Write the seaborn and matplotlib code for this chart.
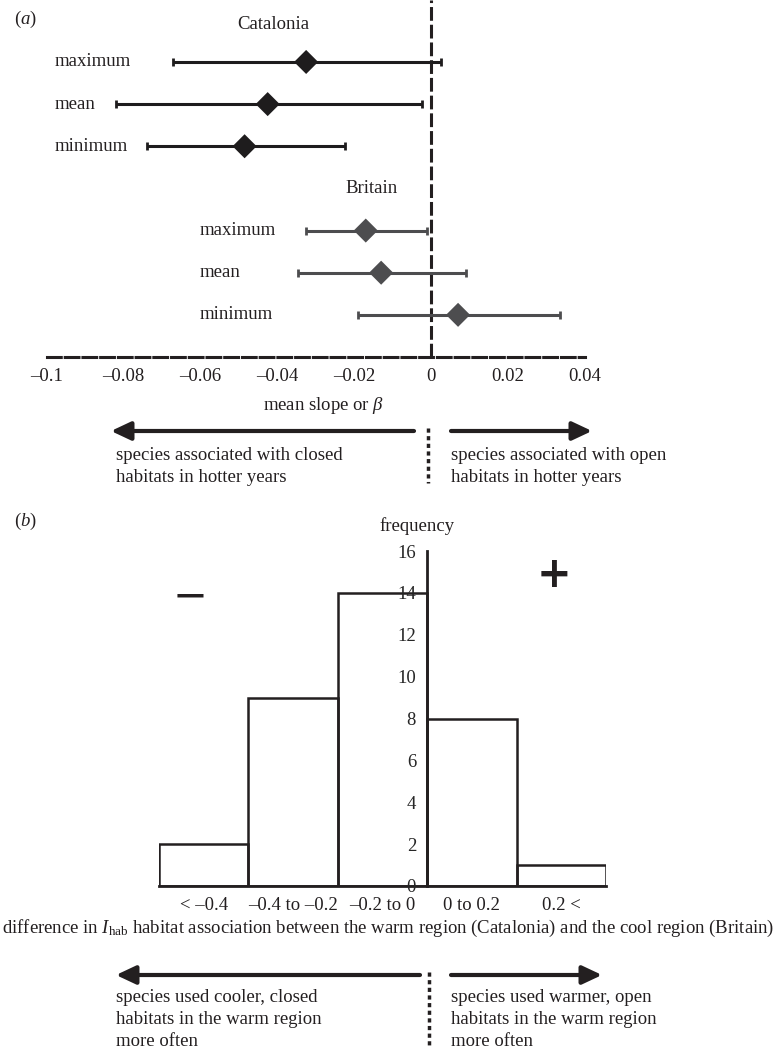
import numpy as np
import pandas as pd
import matplotlib.pyplot as plt
import seaborn as sns
from matplotlib.patches import FancyArrowPatch

# (a) slopes per region: estimate with lower / upper limits
row_labels = ["maximum", "mean", "minimum"]
cat_beta = [-0.0325, -0.0425, -0.0485]
cat_lo = [-0.067, -0.082, -0.074]
cat_hi = [0.0025, -0.0025, -0.0225]
brit_beta = [-0.017, -0.013, 0.007]
brit_lo = [-0.0325, -0.0345, -0.019]
brit_hi = [-0.001, 0.009, 0.0335]
xticks_a = [-0.1, -0.08, -0.06, -0.04, -0.02, 0, 0.02, 0.04]
xticklabels_a = ["–0.1", "–0.08", "–0.06", "–0.04", "–0.02", "0", "0.02", "0.04"]

# (b) histogram of differences in I_hab
bin_labels = ["< –0.4", "–0.4 to –0.2", "–0.2 to 0", "0 to 0.2", "0.2 <"]
frequency = [2, 9, 14, 8, 1]

sns.set_style("white")
plt.rcParams["font.family"] = ["Liberation Serif", "DejaVu Serif"]
plt.rcParams["mathtext.fontset"] = "custom"
plt.rcParams["mathtext.rm"] = "Liberation Serif"
plt.rcParams["mathtext.it"] = "Liberation Serif:italic"

INK = "#231f20"
CAT_COL = "#1e1c1d"
BRIT_COL = "#4d4d4f"
FS = 13.5

W, H = 777, 1049
fig = plt.figure(figsize=(W / 100, H / 100), dpi=100)


def px_axes(left, top, right, bottom):
    return fig.add_axes([left / W, 1 - bottom / H, (right - left) / W, (bottom - top) / H])


# ---------------- panel (a) ----------------
ax_a = px_axes(46.5, 0, 585, 357)
df_a = pd.DataFrame({
    "region": ["Catalonia"] * 3 + ["Britain"] * 3,
    "stat": row_labels * 2,
    "beta": cat_beta + brit_beta,
    "lo": cat_lo + brit_lo,
    "hi": cat_hi + brit_hi,
    "row": [1, 2, 3, 5, 6, 7],
})
palette = {"Catalonia": CAT_COL, "Britain": BRIT_COL}

for region, g in df_a.groupby("region", sort=False):
    ax_a.errorbar(g["beta"], g["row"],
                  xerr=[g["beta"] - g["lo"], g["hi"] - g["beta"]],
                  fmt="none", ecolor=palette[region], elinewidth=2.2,
                  capsize=3, capthick=2, zorder=2)
sns.scatterplot(data=df_a, x="beta", y="row", hue="region", palette=palette,
                marker="D", s=150, linewidth=0, legend=False, zorder=3, ax=ax_a)

ax_a.axvline(0, color=INK, lw=2.2, ls=(0, (4.5, 1.3)), zorder=1)
ax_a.set_xlim(-0.1, 0.04)
ax_a.set_ylim(8, -0.47)
ax_a.set_xticks(xticks_a)
ax_a.set_xticklabels(xticklabels_a, color=INK)
ax_a.tick_params(axis="x", labelsize=FS)
ax_a.set_yticks([])
ax_a.set_xlabel("")
ax_a.set_ylabel("")
for side in ["left", "top", "right"]:
    ax_a.spines[side].set_visible(False)
ax_a.spines["bottom"].set_linestyle((0, (4.5, 1.3)))
ax_a.spines["bottom"].set_linewidth(2.2)
ax_a.spines["bottom"].set_color(INK)
ax_a.tick_params(axis="x", direction="out", length=4, width=2, color=INK, pad=4)
ax_a.patch.set_alpha(0)

for i, lab in enumerate(row_labels):
    ax_a.text(-0.098, 1 + i, lab, fontsize=FS, color=INK, ha="left", va="center")
    ax_a.text(-0.0603, 5 + i, lab, fontsize=FS, color=INK, ha="left", va="center")
ax_a.text(-0.041, 0.1, "Catalonia", fontsize=FS, color=INK, ha="center", va="center")
ax_a.text(-0.0155, 4.0, "Britain", fontsize=FS, color=INK, ha="center", va="center")

# ---------------- panel (b) ----------------
ax_b = px_axes(159, 551, 606, 886)
df_b = pd.DataFrame({"bin": bin_labels, "frequency": frequency})
sns.barplot(data=df_b, x="bin", y="frequency", order=bin_labels, width=1,
            color="white", edgecolor=INK, linewidth=1.8, ax=ax_b)
for p in ax_b.patches:
    p.set_facecolor("none")
ax_b.set_xlim(-0.5, 4.5)
ax_b.set_ylim(0, 16)
ax_b.set_yticks(np.arange(0, 17, 2))
ax_b.set_yticklabels([str(v) for v in range(0, 17, 2)], color=INK)
ax_b.set_xticks(np.arange(-0.5, 4.6, 1))
ax_b.set_xticklabels([])
ax_b.set_xticks(np.arange(len(bin_labels)), minor=True)
ax_b.set_xticklabels(bin_labels, minor=True, color=INK)
ax_b.tick_params(axis="both", which="both", labelsize=FS)
ax_b.tick_params(axis="x", which="major", direction="out", length=5, width=2, color=INK)
ax_b.tick_params(axis="x", which="minor", length=0, pad=8)
ax_b.tick_params(axis="y", direction="out", length=4, width=2, color=INK, pad=4)
ax_b.set_axisbelow(False)
ax_b.set_xlabel("")
ax_b.set_ylabel("")
ax_b.spines["top"].set_visible(False)
ax_b.spines["right"].set_visible(False)
ax_b.spines["left"].set_position(("data", 2.5))
for side in ["left", "bottom"]:
    ax_b.spines[side].set_linewidth(2)
    ax_b.spines[side].set_color(INK)
ax_b.patch.set_alpha(0)

# ---------------- annotations in pixel space ----------------
ov = fig.add_axes([0, 0, 1, 1])
ov.set_xlim(0, W)
ov.set_ylim(H, 0)
ov.axis("off")
ov.patch.set_alpha(0)


def arrow(x0, x1, y):
    ov.add_patch(FancyArrowPatch((x0, y), (x1, y), arrowstyle="-|>,head_length=0.85,head_width=0.4",
                                 mutation_scale=14, lw=3, color=INK, shrinkA=0, shrinkB=0))


def lines(x, ys, texts):
    for y, t in zip(ys, texts):
        ov.text(x, y, t, fontsize=FS, color=INK, ha="left", va="center_baseline")


ov.text(14, 19, "($a$)", fontsize=FS, color=INK, ha="left", va="center")
ov.text(324, 405, r"mean slope or $\beta$", fontsize=FS, color=INK, ha="center", va="center")
arrow(414, 111, 431)
arrow(451, 592, 431)
ov.plot([428, 428], [428, 483], color=INK, lw=2.5, ls=(0, (1.2, 1.0)))
lines(116, [453, 476], ["species associated with closed", "habitats in hotter years"])
lines(451, [453, 476], ["species associated with open", "habitats in hotter years"])

ov.text(14, 521, "($b$)", fontsize=FS, color=INK, ha="left", va="center")
ov.text(417, 526, "frequency", fontsize=FS, color=INK, ha="center", va="center")
ov.text(190, 597, "−", fontsize=30, color=INK, ha="center", va="center", family="DejaVu Sans")
ov.text(554, 575, "+", fontsize=30, color=INK, ha="center", va="center", family="DejaVu Sans",
        fontweight="bold")
ov.text(388, 928, r"difference in $I_{\mathrm{hab}}$ habitat association between the warm region "
        "(Catalonia) and the cool region (Britain)", fontsize=FS, color=INK, ha="center", va="center")
arrow(420, 116, 975)
arrow(451, 602, 975)
ov.plot([429, 429], [972, 1045], color=INK, lw=2.5, ls=(0, (1.2, 1.0)))
lines(116, [995, 1017, 1040], ["species used cooler, closed", "habitats in the warm region", "more often"])
lines(451, [995, 1017, 1040], ["species used warmer, open", "habitats in the warm region", "more often"])

fig.savefig("out.png", dpi=100)
